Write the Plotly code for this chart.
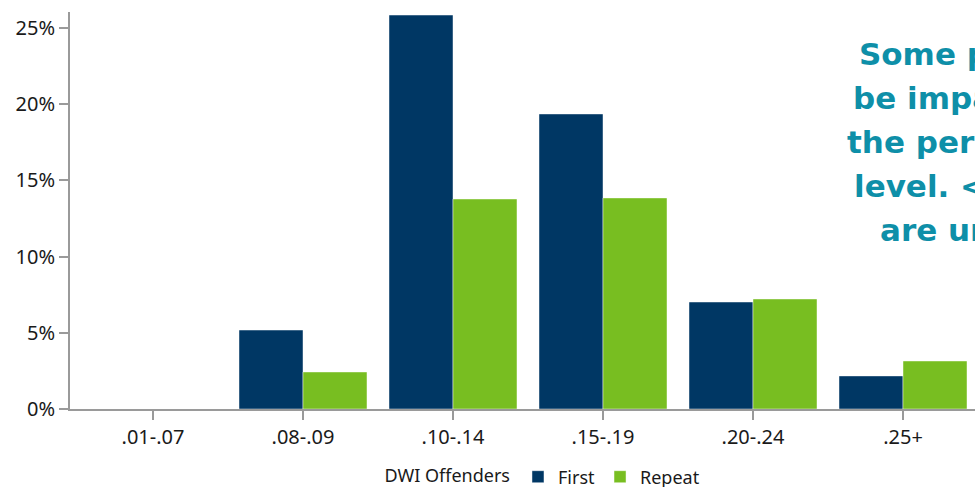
import plotly.graph_objects as go

categories = [".01-.07", ".08-.09", ".10-.14", ".15-.19", ".20-.24", ".25+"]
first_vals = [0.0, 0.0518, 0.2585, 0.1936, 0.0702, 0.0217]
repeat_vals = [0.0, 0.0243, 0.1378, 0.1385, 0.0722, 0.0315]
note_lines = ["Some people may", "be impaired below", "the per se BAC", "level. <1% of", "are under .08"]

W, H = 975, 487
L, R, T, B = 70, 0, 12, 487 - 409
pw, ph = W - L - R, H - T - B

fig = go.Figure()
fig.add_trace(go.Bar(name="First", x=categories, y=first_vals, marker_color="#003764",
                     marker_line=dict(width=1, color="rgba(255,255,255,0.45)")))
fig.add_trace(go.Bar(name="Repeat", x=categories, y=repeat_vals, marker_color="#78be21",
                     marker_line=dict(width=1, color="rgba(255,255,255,0.45)")))

axcol = "#9a9a9a"
tickfont = dict(family="Noto Sans", size=20, color="#1a1a1a")
legfont = dict(family="Noto Sans", size=18, color="#1a1a1a")
fig.update_layout(
    width=W, height=H,
    margin=dict(l=L, r=R, t=T, b=B, pad=0),
    plot_bgcolor="white", paper_bgcolor="white",
    barmode="group", bargap=0.1467, bargroupgap=0,
    xaxis=dict(range=[-0.5533, 5.48], showline=True, linecolor=axcol, linewidth=2,
               ticks="outside", ticklen=9, tickwidth=2, tickcolor=axcol,
               showgrid=False, zeroline=False, tickfont=tickfont),
    yaxis=dict(range=[0, 0.2605], showline=True, linecolor=axcol, linewidth=2,
               ticks="outside", ticklen=9, tickwidth=2, tickcolor=axcol,
               tickformat=".0%", dtick=0.05, showgrid=False, zeroline=False,
               tickfont=tickfont),
    legend=dict(orientation="h", xref="container", yref="container",
                x=544 / W, xanchor="center", y=(487 - 477) / H, yanchor="middle",
                title=dict(text="DWI Offenders", side="left", font=legfont),
                font=legfont),
    showlegend=True,
)

starts = [858, 852, 846, 853, 879]
baselines = [65, 109, 153, 197, 241]
for txt, sx, bl in zip(note_lines, starts, baselines):
    cy = bl - 11
    fig.add_annotation(text="<b>" + txt + "</b>", xref="paper", yref="paper",
                       x=(sx - L) / pw, y=(H - B - cy) / ph,
                       xanchor="left", yanchor="middle", showarrow=False,
                       borderpad=0,
                       font=dict(family="DejaVu Sans", size=31, color="#0e8fa8"))

fig.write_html("out.html", config={"displayModeBar": False},
               post_script="document.body.style.margin='0px';")
